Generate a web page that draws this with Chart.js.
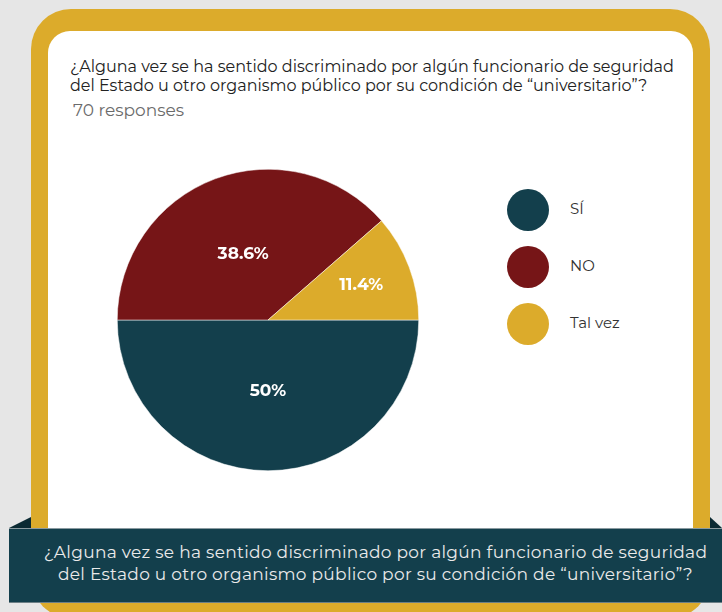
<!DOCTYPE html>
<html>
<head>
<meta charset="utf-8">
<script src="https://cdn.jsdelivr.net/npm/chart.js@4.4.0/dist/chart.umd.min.js"></script>
<style>
  html, body { margin:0; padding:0; }
  body { width:722px; height:612px; background:#e6e6e6; position:relative; overflow:hidden; font-family:"Montserrat","Lato","Noto Sans",sans-serif; }
  .frame { position:absolute; left:31px; top:9px; width:679px; height:609px; background:#dcab2b; border-radius:40px; }
  .inner { position:absolute; left:48px; top:31px; width:645px; height:520px; background:#fff; border-radius:22px; }
  .title { position:absolute; left:70px; top:57px; font-size:16px; line-height:19px; color:#222; white-space:nowrap; }
  .resp { position:absolute; left:73px; top:100px; font-size:17px; color:#6b6b6b; }
  #pie { position:absolute; left:117px; top:169px; }
  .legend { position:absolute; left:507px; top:189px; }
  .legend div { position:relative; height:57px; }
  .legend span.dot { position:absolute; left:0; width:42px; height:42px; border-radius:50%; }
  .legend span.txt { position:absolute; left:63px; top:10px; font-size:15px; color:#333; white-space:nowrap; }
  .banner { position:absolute; left:9px; top:528px; width:713px; height:75px; background:#133f4c; border-top:1px solid #8a9aa0; border-bottom:1px solid #6d7f86; box-sizing:border-box; }
  .banner p { margin:0; position:absolute; left:10px; right:-10px; top:12px; text-align:center; color:#eaeaea; font-size:17px; line-height:22px; letter-spacing:0.3px; white-space:nowrap; }
  .foldL { position:absolute; left:9px; top:517px; width:22px; height:11px; background:#0b2a33; clip-path:polygon(0 100%,100% 0,100% 100%); }
  .foldR { position:absolute; left:710px; top:517px; width:12px; height:11px; background:#0b2a33; clip-path:polygon(0 0,100% 100%,0 100%); }
</style>
</head>
<body>
<div class="frame"></div>
<div class="inner"></div>
<div class="title">¿Alguna vez se ha sentido discriminado por algún funcionario de seguridad<br>del Estado u otro organismo público por su condición de “universitario”?</div>
<div class="resp">70 responses</div>
<canvas id="pie" width="302" height="302"></canvas>
<div class="legend" id="legend"></div>
<div class="foldL"></div>
<div class="foldR"></div>
<div class="banner"><p>¿Alguna vez se ha sentido discriminado por algún funcionario de seguridad<br>del Estado u otro organismo público por su condición de “universitario”?</p></div>
<script>
// data (70 responses)
const categories = ['SÍ', 'NO', 'Tal vez'];
const counts = [35, 27, 8];
const percentLabels = ['50%', '38.6%', '11.4%'];
const colors = ['#133f4c', '#761517', '#dcab2b'];

// legend
const legendEl = document.getElementById('legend');
categories.forEach((c, i) => {
  const row = document.createElement('div');
  row.innerHTML = `<span class="dot" style="background:${colors[i]}"></span><span class="txt">${c}</span>`;
  legendEl.appendChild(row);
});

// labels inside slices
const sliceLabels = {
  id: 'sliceLabels',
  afterDatasetsDraw(chart) {
    const c = chart.ctx;
    const meta = chart.getDatasetMeta(0);
    c.save();
    c.fillStyle = '#fff';
    c.font = 'bold 17px "Montserrat","Lato","Noto Sans",sans-serif';
    c.textAlign = 'center';
    c.textBaseline = 'middle';
    meta.data.forEach((arc, i) => {
      const mid = (arc.startAngle + arc.endAngle) / 2;
      const share = (arc.endAngle - arc.startAngle) / (2 * Math.PI);
      const f = share < 0.2 ? 0.66 : 0.47;
      const x = arc.x + Math.cos(mid) * arc.outerRadius * f;
      const y = arc.y + Math.sin(mid) * arc.outerRadius * f;
      c.fillText(percentLabels[i], x, y);
    });
    c.restore();
  }
};

new Chart(document.getElementById('pie'), {
  type: 'pie',
  data: {
    labels: categories,
    datasets: [{ data: counts, backgroundColor: colors, borderColor: '#fff', borderWidth: 0.5 }]
  },
  options: {
    responsive: false,
    animation: false,
    rotation: 90,
    layout: { padding: 0 },
    plugins: { legend: { display: false }, tooltip: { enabled: false } }
  },
  plugins: [sliceLabels]
});
</script>
</body>
</html>
